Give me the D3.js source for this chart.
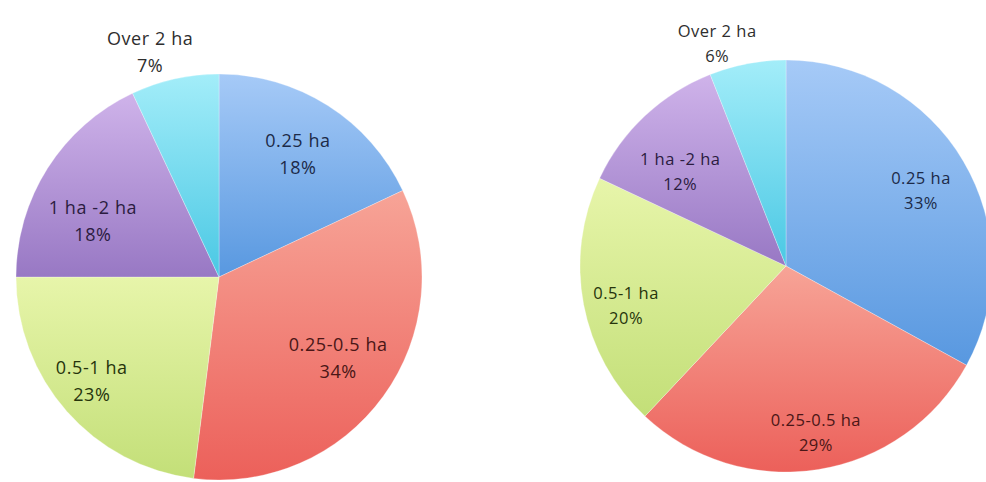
<!DOCTYPE html>
<html>
<head>
<meta charset="utf-8">
<script src="https://cdn.jsdelivr.net/npm/d3@7"></script>
<style>
  html, body { margin: 0; padding: 0; background: #ffffff; }
  svg { display: block; }
</style>
</head>
<body>
<svg id="chart" width="986" height="482"></svg>
<script>
// Farm size classes, clockwise from 12 o'clock
const categories = ["0.25 ha", "0.25-0.5 ha", "0.5-1 ha", "1 ha -2  ha", "Over 2 ha"];
// Share of farms (%) in each pie
const leftValues = [18, 34, 23, 18, 7];
const rightValues = [33, 29, 20, 12, 6];

// Slice fills: light top -> darker bottom
const topColors = ["#a6caf7", "#f7a497", "#e7f5aa", "#cfb3ea", "#a3edf9"];
const bottomColors = ["#5898e0", "#ec605a", "#c3df78", "#9878c4", "#4ac8e4"];
const labelColors = ["#1c2a48", "#4a1616", "#26340c", "#2b1c40", "#2e2e2e"];

const svg = d3.select("#chart");
const defs = svg.append("defs");
categories.forEach((c, i) => {
  const g = defs.append("linearGradient")
    .attr("id", "grad" + i)
    .attr("x1", 0).attr("y1", 0).attr("x2", 0).attr("y2", 1);
  g.append("stop").attr("offset", "0%").attr("stop-color", topColors[i]);
  g.append("stop").attr("offset", "100%").attr("stop-color", bottomColors[i]);
});

function drawPie(values, opts) {
  const pie = d3.pie().sort(null).value(d => d)(values);
  const arc = d3.arc().innerRadius(0).outerRadius(opts.r);
  const g = svg.append("g").attr("transform", `translate(${opts.cx},${opts.cy})`);

  g.selectAll("path.slice")
    .data(pie)
    .join("path")
    .attr("class", "slice")
    .attr("d", arc)
    .attr("fill", (d, i) => `url(#grad${i})`)
    .attr("stroke", "rgba(255,255,255,0.35)")
    .attr("stroke-width", 0.8);

  const labels = g.selectAll("text.lbl")
    .data(pie)
    .join("text")
    .attr("class", "lbl")
    .attr("text-anchor", "middle")
    .attr("font-family", "'Open Sans', sans-serif")
    .attr("font-size", opts.fontSize)
    .attr("letter-spacing", opts.spacing)
    .attr("fill", (d, i) => labelColors[i])
    .attr("transform", (d, i) => {
      const a = (d.startAngle + d.endAngle) / 2 + opts.angleShift[i] * Math.PI / 180;
      const rr = opts.r * opts.radial[i];
      const x = Math.sin(a) * rr;
      const y = -Math.cos(a) * rr;
      return `translate(${x},${y})`;
    });

  labels.append("tspan")
    .attr("x", 0)
    .attr("dy", -opts.lineGap / 2 + opts.fontSize * 0.36)
    .text((d, i) => categories[i]);
  labels.append("tspan")
    .attr("x", 0)
    .attr("dy", opts.lineGap)
    .text(d => d.data + "%");
}

drawPie(leftValues, {
  cx: 219, cy: 277, r: 203,
  fontSize: 18, spacing: 0.6, lineGap: 27.5,
  radial: [0.72, 0.71, 0.81, 0.68, 1.16],
  angleShift: [0.3, -1.8, 2.1, -8.4, -4.4]
});

drawPie(rightValues, {
  cx: 786, cy: 266, r: 206,
  fontSize: 16.5, spacing: 0.5, lineGap: 25,
  radial: [0.75, 0.82, 0.80, 0.69, 1.13],
  angleShift: [1.5, -1.2, -3.2, -4.9, -6.4]
});
</script>
</body>
</html>
